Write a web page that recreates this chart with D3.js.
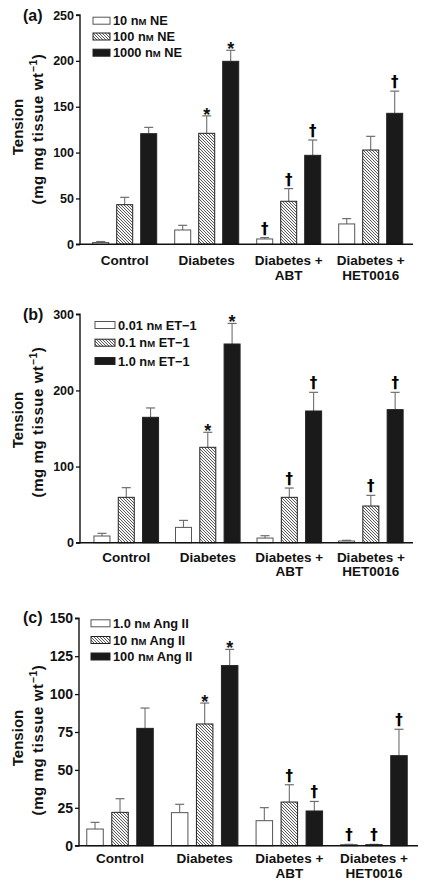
<!DOCTYPE html>
<html>
<head>
<meta charset="utf-8">
<script src="https://cdn.jsdelivr.net/npm/d3@7"></script>
<style>
  html, body { margin: 0; padding: 0; background: #fff; }
  svg { display: block; }
  text { font-family: "Liberation Sans", Arial, Helvetica, sans-serif; font-weight: bold; fill: #111; }
</style>
</head>
<body>
<svg id="chart" width="427" height="890"></svg>
<script>
// ---------------- DATA ----------------
const groupLine1 = ["Control", "Diabetes", "Diabetes +", "Diabetes +"];
const groupLine2 = ["", "", "ABT", "HET0016"];
const seriesFills = ["white", "hatch", "black"];

// Panel (a) norepinephrine
const neLegend = [["10 n", "M", " NE"], ["100 n", "M", " NE"], ["1000 n", "M", " NE"]];
const neMeans = [[2, 15.6, 5.8, 22.2], [43.2, 121, 46.9, 102.8], [120.6, 199.5, 97, 142.8]];
const neSem = [[1, 5.1, 1.5, 5.8], [8, 19, 13.8, 14.9], [6.9, 12, 16.7, 24.2]];
const neMarks = [["", "", "†", ""], ["", "*", "†", ""], ["", "*", "†", "†"]];
const neTicks = [0, 50, 100, 150, 200, 250];

// Panel (b) endothelin-1
const etLegend = [["0.01 n", "M", " ET\u22121"], ["0.1 n", "M", " ET\u22121"], ["1.0 n", "M", " ET\u22121"]];
const etMeans = [[8.8, 20.1, 6.1, 2.2], [59.6, 125.3, 59.6, 48.2], [164.7, 261, 173, 174.8]];
const etSem = [[3.5, 9.2, 3.1, 0.9], [12.7, 19.7, 12.2, 14], [12.3, 27, 24.5, 22.7]];
const etMarks = [["", "", "", ""], ["", "*", "†", "†"], ["", "*", "†", "†"]];
const etTicks = [0, 100, 200, 300];

// Panel (c) angiotensin II
const angLegend = [["1.0 n", "M", " Ang II"], ["10 n", "M", " Ang II"], ["100 n", "M", " Ang II"]];
const angMeans = [[11, 21.8, 16.5, 0.7], [22, 80.3, 28.8, 0.7], [77.4, 118.8, 22.9, 59.4]];
const angSem = [[4.4, 5.5, 8.6, 0.2], [9, 13.8, 11.4, 0.2], [13.4, 10.7, 6.3, 17.4]];
const angMarks = [["", "", "", "†"], ["", "*", "†", "†"], ["", "*", "†", "†"]];
const angTicks = [0, 25, 50, 75, 100, 125, 150];

// ---------------- LAYOUT ----------------
const panels = [
  { label: "(a)", labelPos: [23, 21], means: neMeans, sem: neSem, marks: neMarks, ticks: neTicks, legend: neLegend,
    yTop: 15, yBot: 244.3, axisX: 80, axisEnd: 413, band: [83.7, 411.7], barW: 16, step: 24, tickFont: 12.5,
    legendX: 93, boxW: 17, legendRows: [20.7, 36.5, 52.7], xl1: 265, xl2: 279.5, titleCY: 127 },
  { label: "(b)", labelPos: [23, 320], means: etMeans, sem: etSem, marks: etMarks, ticks: etTicks, legend: etLegend,
    yTop: 314.3, yBot: 542.7, axisX: 80, axisEnd: 413, band: [85.5, 411.6], barW: 16, step: 24.3, tickFont: 12.5,
    legendX: 95, boxW: 20, legendRows: [325, 342.7, 361], xl1: 561.5, xl2: 576, titleCY: 420 },
  { label: "(c)", labelPos: [23, 622.5], means: angMeans, sem: angSem, marks: angMarks, ticks: angTicks, legend: angLegend,
    yTop: 618.3, yBot: 845.7, axisX: 79, axisEnd: 418, band: [77.7, 416.3], barW: 16.5, step: 25, tickFont: 14,
    legendX: 91, boxW: 19, legendRows: [623.3, 640, 656.5], xl1: 863.3, xl2: 877.8, titleCY: 738 }
];

const svg = d3.select("#chart");
const defs = svg.append("defs");
const pat = defs.append("pattern")
  .attr("id", "hatch").attr("patternUnits", "userSpaceOnUse")
  .attr("width", 3).attr("height", 3);
pat.append("rect").attr("width", 3).attr("height", 3).attr("fill", "#f6f6f6");
pat.append("path").attr("d", "M-1,-1 L4,4 M-1,2 L1,4 M2,-1 L4,1")
  .attr("stroke", "#333").attr("stroke-width", 0.8);

function fillOf(kind) {
  return kind === "white" ? "#ffffff" : kind === "hatch" ? "url(#hatch)" : "#1b1a1a";
}
function strokeOf(kind) {
  return kind === "white" ? "#555" : "#222";
}

panels.forEach(p => {
  const g = svg.append("g");
  const yMax = p.ticks[p.ticks.length - 1];
  const y = d3.scaleLinear().domain([0, yMax]).range([p.yBot, p.yTop]);
  const x = d3.scaleBand().domain(d3.range(4)).range(p.band).padding(0);
  const xs = d3.scaleBand().domain(d3.range(3))
    .range([-1.5 * p.step, 1.5 * p.step])
    .paddingInner((p.step - p.barW) / p.step)
    .paddingOuter((p.step - p.barW) / p.step / 2);

  // bars
  p.means.forEach((vals, si) => {
    vals.forEach((v, gi) => {
      const bx = x(gi) + x.bandwidth() / 2 + xs(si);
      const cx = bx + xs.bandwidth() / 2;
      const top = y(v + p.sem[si][gi]);
      // error bar
      g.append("line").attr("x1", cx).attr("x2", cx).attr("y1", y(v)).attr("y2", top)
        .attr("stroke", "#6e6e6e").attr("stroke-width", 1.1);
      g.append("line").attr("x1", cx - 4.5).attr("x2", cx + 4.5).attr("y1", top).attr("y2", top)
        .attr("stroke", "#6e6e6e").attr("stroke-width", 1.2);
      g.append("rect").attr("x", bx).attr("y", y(v)).attr("width", xs.bandwidth())
        .attr("height", Math.max(0.8, y(0) - y(v)))
        .attr("fill", fillOf(seriesFills[si])).attr("stroke", strokeOf(seriesFills[si])).attr("stroke-width", 1);
      const m = p.marks[si][gi];
      if (m === "*") {
        g.append("text").attr("x", cx).attr("y", top + 5).attr("text-anchor", "middle")
          .attr("font-size", 18).text("*");
      } else if (m === "†") {
        g.append("text").attr("x", cx).attr("y", top - 4).attr("text-anchor", "middle")
          .style("font-family", '"DejaVu Sans", sans-serif').style("fill", "#000")
          .attr("font-size", 15).text("†");
      }
    });
  });

  // y axis
  const yAxis = d3.axisLeft(y).tickValues(p.ticks).tickSize(4).tickPadding(2).tickFormat(d3.format("d"));
  const ya = g.append("g").attr("transform", `translate(${p.axisX},0)`).call(yAxis);
  ya.select(".domain").attr("stroke", "#111").attr("stroke-width", 1.4).attr("d", `M-4,${p.yTop}H0V${p.yBot}H-4`);
  ya.selectAll(".tick line").attr("stroke", "#111").attr("stroke-width", 1.3);
  ya.selectAll(".tick text").attr("font-size", p.tickFont).attr("font-weight", "bold")
    .attr("font-family", '"Liberation Sans", Arial, sans-serif').attr("fill", "#111");

  // x axis line
  g.append("line").attr("x1", p.axisX).attr("x2", p.axisEnd).attr("y1", p.yBot).attr("y2", p.yBot)
    .attr("stroke", "#111").attr("stroke-width", 1.4);

  // x labels
  d3.range(4).forEach(gi => {
    const cx = x(gi) + x.bandwidth() / 2;
    g.append("text").attr("x", cx).attr("y", p.xl1).attr("text-anchor", "middle").attr("font-size", 13.5).text(groupLine1[gi]);
    if (groupLine2[gi]) g.append("text").attr("x", cx).attr("y", p.xl2).attr("text-anchor", "middle").attr("font-size", 13.5).text(groupLine2[gi]);
  });

  // panel label
  g.append("text").attr("x", p.labelPos[0]).attr("y", p.labelPos[1]).attr("font-size", 16).text(p.label);

  // y title
  g.append("text").attr("transform", `translate(22.5,${p.titleCY}) rotate(-90)`).attr("text-anchor", "middle")
    .attr("font-size", 15).text("Tension");
  const t2 = g.append("text").attr("transform", `translate(43,${p.titleCY + 2}) rotate(-90)`).attr("text-anchor", "middle")
    .attr("font-size", 15).attr("letter-spacing", 0.6);
  t2.append("tspan").text("(mg mg tissue wt");
  t2.append("tspan").attr("font-size", 10.5).attr("dy", -6).text("\u22121");
  t2.append("tspan").attr("dy", 6).text(")");

  // legend
  p.legend.forEach((parts, si) => {
    const cy = p.legendRows[si];
    g.append("rect").attr("x", p.legendX).attr("y", cy - 3.5).attr("width", p.boxW).attr("height", 7)
      .attr("fill", fillOf(seriesFills[si])).attr("stroke", strokeOf(seriesFills[si])).attr("stroke-width", 1);
    const t = g.append("text").attr("x", p.legendX + p.boxW + 3).attr("y", cy + 4.5).attr("font-size", 12.8);
    t.append("tspan").text(parts[0]);
    t.append("tspan").attr("font-size", 9.5).text(parts[1]);
    t.append("tspan").text(parts[2]);
  });
});
</script>
</body>
</html>
